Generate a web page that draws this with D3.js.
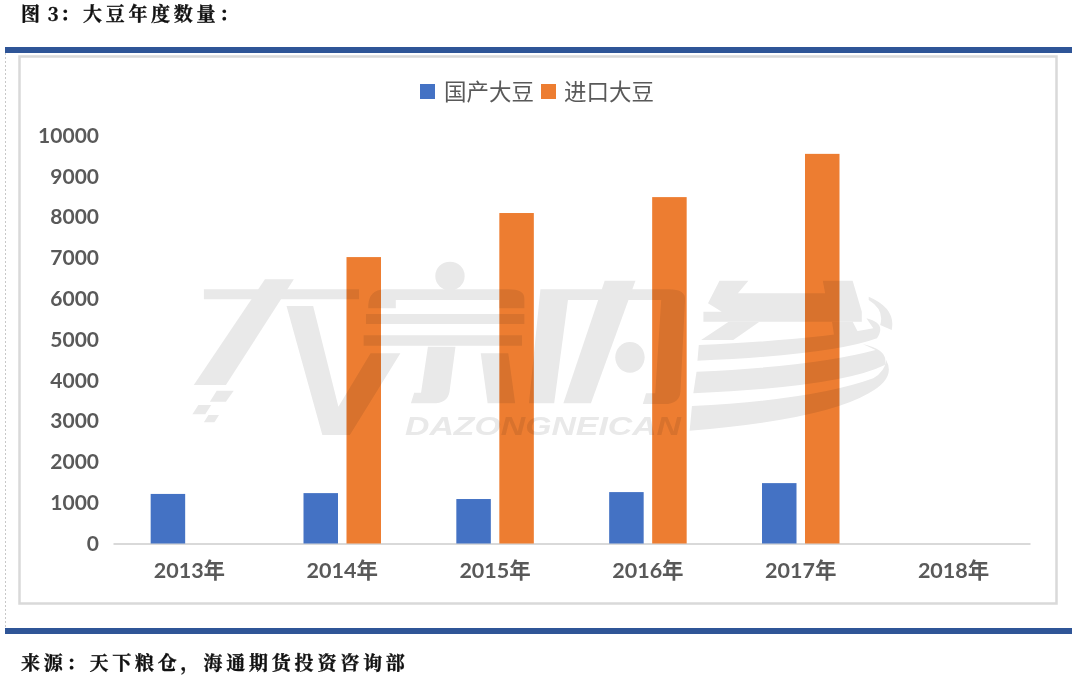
<!DOCTYPE html>
<html><head><meta charset="utf-8">
<script src="https://cdn.jsdelivr.net/npm/d3@7/dist/d3.min.js"></script>
<style>
html,body{margin:0;padding:0;background:#fff;overflow:hidden}
svg{display:block}
text{font-family:Lato,"Noto Sans CJK SC",sans-serif}
.cap{font-family:"Noto Serif CJK SC","Noto Sans CJK SC",serif;font-weight:700;fill:#111;font-size:19px;stroke:#111;stroke-width:.35px}
</style></head><body>
<svg id="c" width="1080" height="675"></svg>
<script>
const categories=["2013年","2014年","2015年","2016年","2017年","2018年"];
const domesticValues=[1215,1235,1090,1260,1480,null];
const importedValues=[null,7020,8100,8490,9550,null];
const seriesNames=["国产大豆","进口大豆"];
const seriesColors=["#4472c4","#ed7d31"];
const yTicks=[0,1000,2000,3000,4000,5000,6000,7000,8000,9000,10000];
const titleLead="图 3：";
const titleRest="大豆年度数量：";
const sourceText="来源：天下粮仓，海通期货投资咨询部";
const watermarkText="DAZONGNEICAN";

const svg=d3.select("#c");
// page furniture
svg.append("line").attr("x1",5.5).attr("x2",5.5).attr("y1",53).attr("y2",628)
  .attr("stroke","#c8c8c8").attr("stroke-dasharray","2 2");
[[47,53],[628,634]].forEach(([a,b])=>svg.append("rect").attr("x",5).attr("width",1067).attr("y",a).attr("height",b-a).attr("fill","#2f5597"));
svg.append("rect").attr("x",19.5).attr("y",56.5).attr("width",1037).attr("height",547)
  .attr("fill","none").attr("stroke","#d9d9d9").attr("stroke-width",2.5);
svg.append("text").attr("class","cap").attr("x",21).attr("y",21).style("letter-spacing","1.4px").text(titleLead);
svg.append("text").attr("class","cap").attr("x",83).attr("y",21).style("letter-spacing","3.7px").text(titleRest);
svg.append("text").attr("class","cap").attr("x",21).attr("y",670).style("letter-spacing","3.8px").text(sourceText);

// scales
const x=d3.scaleBand().domain(categories).range([113,1030]);
const y=d3.scaleLinear().domain([0,10000]).range([543.5,135.5]);
const barW=34.5,gap=8.5;
const offs=[-gap/2-barW,gap/2];

// axes
const gx=svg.append("g").attr("transform","translate(0,543.5)").call(d3.axisBottom(x).tickSize(0).tickPadding(19));
gx.select(".domain").attr("stroke","#d9d9d9").attr("stroke-width",2);
gx.selectAll("text").attr("font-size",21.5).attr("font-weight",700).attr("fill","#595959").style("font-family",'Lato,"Noto Sans CJK SC",sans-serif');
const gy=svg.append("g").attr("transform","translate(113,0)").call(d3.axisLeft(y).tickValues(yTicks).tickFormat(d3.format("d")).tickSize(0).tickPadding(14));
gy.select(".domain").remove();
gy.selectAll("text").attr("font-size",21).attr("font-weight",700).attr("fill","#595959");

// bars
[domesticValues,importedValues].forEach((vals,s)=>{
  svg.append("g").selectAll("rect").data(vals.map((v,i)=>({v,c:categories[i]})).filter(d=>d.v!=null)).join("rect")
    .attr("x",d=>x(d.c)+x.bandwidth()/2+offs[s]).attr("width",barW)
    .attr("y",d=>y(d.v)).attr("height",d=>y(0)-y(d.v)).attr("fill",seriesColors[s]);
});

// legend
const lg=[{sx:420,tx:444},{sx:541,tx:564}];
seriesNames.forEach((n,i)=>{
  svg.append("rect").attr("x",lg[i].sx).attr("y",84).attr("width",15).attr("height",15).attr("fill",seriesColors[i]);
  svg.append("text").attr("x",lg[i].tx).attr("y",100).attr("font-size",22.5).attr("fill","#595959").text(n);
});

// watermark (decorative logo), multiplied over the bars
const wmColor="#e9e9e9";
const wm=svg.append("g").style("mix-blend-mode","multiply");
const w=wm.append("g").attr("transform",`translate(180,250) scale(${1/2.178},${1/3})`).attr("fill",wmColor);
const shapes=[
"M52 118H390V148H52Z",
"M185 88H248L100 405H45L30 405Z",
"M232 168H290L345 470L415 310H480L370 555H310Z",
"M80 422H117L100 455H65Z","M40 465H68L55 493H27Z","M62 495H85L75 517H52Z",
"M410 165Q412 120 445 118H715Q750 118 750 145V175H695V150H470V175H410Z",
"M405 192H750V222H405Z","M400 256H745V287H400Z",
"M540 290H600L587 425Q583 460 550 460H503L510 428H525Z",
"M655 310H715L730 460H670Z",
"M785 118H1065Q1102 118 1100 150L1090 425Q1088 462 1055 462H1008L1015 430H1035L1048 150H845L815 460H760Z",
"M925 92H992L895 460H835Z",
"M1175 92H1238L1215 130H1405L1400 92H1465L1485 185V215H1140V185H1180L1150 160Z",
"M1195 215H1262L1205 270H1135Z",
"M1420 215H1465L1480 255L1425 260Z",
"M1130 285Q1380 270 1510 235L1495 205Q1540 220 1518 265Q1420 315 1127 332Z",
"M1125 365Q1380 350 1515 300L1487 282Q1545 300 1535 345Q1440 410 1118 430Z",
"M1115 468Q1380 450 1510 385Q1535 365 1538 330Q1560 385 1500 430Q1400 510 1110 542Z",
"M1500 140Q1560 175 1550 240L1525 225Q1535 180 1500 150Z"
];
w.selectAll("path").data(shapes).join("path").attr("d",d=>d);
w.append("ellipse").attr("cx",588).attr("cy",78).attr("rx",32).attr("ry",43);
w.append("ellipse").attr("cx",980).attr("cy",322).attr("rx",32).attr("ry",46);
wm.append("text").attr("x",405).attr("y",435).attr("font-size",26.5).attr("font-weight",900).attr("font-style","italic")
  .attr("fill",wmColor).style("font-family","'Liberation Sans',sans-serif").attr("textLength",276).attr("lengthAdjust","spacingAndGlyphs").text(watermarkText);
</script></body></html>
